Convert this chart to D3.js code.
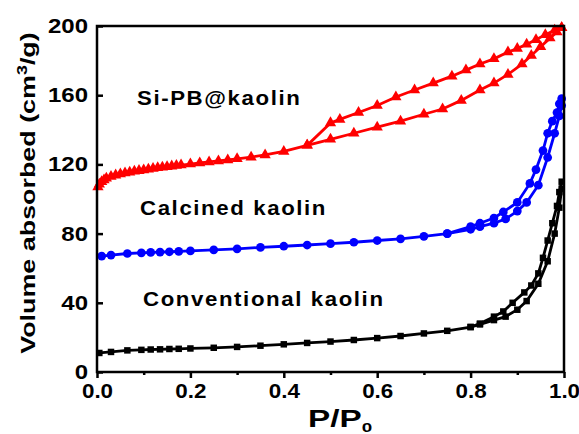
<!DOCTYPE html>
<html lang="en">
  <head>
    <meta charset="UTF-8" />
    <title>isotherms</title>
    <script src="https://d3js.org/d3.v7.min.js" charset="utf-8"></script>
    <style>
      body { margin: 0; background: #fff; }
      text { font-family: "Liberation Sans", Arial, sans-serif; font-weight: bold; fill: #000; }
    </style>
  </head>
  <body>
    <div id="chart"></div>
    <script>
      // Si-PB@kaolin (red, triangles)
      const redAdsP = [0.002, 0.005, 0.01, 0.015, 0.02, 0.03, 0.04, 0.05, 0.06, 0.07, 0.08, 0.09, 0.10, 0.11, 0.12, 0.13, 0.14, 0.15, 0.16, 0.17, 0.18, 0.20, 0.22, 0.24, 0.26, 0.28, 0.30, 0.33, 0.36, 0.40, 0.45, 0.50, 0.55, 0.60, 0.65, 0.70, 0.74, 0.78, 0.82, 0.85, 0.88, 0.91, 0.93, 0.95, 0.97, 0.985, 0.995];
      const redAdsV = [107, 108.5, 110, 111, 112, 113, 113.8, 114.5, 115, 115.5, 116, 116.4, 116.8, 117.2, 117.6, 118, 118.3, 118.6, 119, 119.3, 119.6, 120.2, 120.8, 121.4, 122, 122.6, 123.2, 124.2, 125.5, 127.5, 131, 134.5, 138, 141.5, 145, 149, 152, 157, 163, 167, 172, 178, 183, 188, 193, 196.5, 199];
      const redDesP = [0.995, 0.98, 0.96, 0.94, 0.92, 0.90, 0.88, 0.85, 0.82, 0.79, 0.76, 0.72, 0.68, 0.64, 0.60, 0.56, 0.52, 0.50, 0.45];
      const redDesV = [199, 197.5, 195, 192, 189.5, 187, 185, 181, 178, 174.5, 171, 167, 163, 159, 154, 150, 146, 144, 131];

      // Calcined kaolin (blue, circles)
      const blueAdsP = [0.01, 0.03, 0.065, 0.095, 0.115, 0.135, 0.155, 0.175, 0.2, 0.25, 0.3, 0.35, 0.4, 0.45, 0.5, 0.55, 0.6, 0.65, 0.7, 0.75, 0.8, 0.82, 0.85, 0.875, 0.9, 0.92, 0.945, 0.965, 0.98, 0.99, 0.995];
      const blueAdsV = [67, 67.6, 68.5, 68.9, 69.1, 69.3, 69.5, 69.7, 70, 70.6, 71.2, 72, 72.7, 73.4, 74.2, 75, 76, 77, 78.4, 80, 82.5, 84, 86, 88.5, 93, 98, 108, 124, 138, 148, 154];
      const blueDesP = [0.995, 0.99, 0.985, 0.975, 0.965, 0.955, 0.94, 0.927, 0.9, 0.87, 0.85, 0.82, 0.8, 0.75];
      const blueDesV = [158, 155, 150, 145, 138, 128, 117, 109, 98, 92.5, 89, 86, 84, 80];

      // Conventional kaolin (black, squares)
      const blackAdsP = [0.005, 0.03, 0.065, 0.095, 0.115, 0.135, 0.155, 0.175, 0.2, 0.25, 0.3, 0.35, 0.4, 0.45, 0.5, 0.55, 0.6, 0.65, 0.7, 0.75, 0.8, 0.82, 0.85, 0.875, 0.9, 0.92, 0.945, 0.965, 0.98, 0.99, 0.995];
      const blackAdsV = [11, 11.6, 12.5, 12.8, 13, 13.1, 13.3, 13.4, 13.6, 14, 14.5, 15.2, 16, 16.8, 17.6, 18.5, 19.6, 20.8, 22.3, 23.8, 26, 27.5, 30, 32, 36, 41, 51, 64, 80, 95, 106];
      const blackDesP = [0.995, 0.99, 0.985, 0.975, 0.965, 0.955, 0.945, 0.93, 0.915, 0.89, 0.87, 0.85, 0.82, 0.8];
      const blackDesV = [110, 104, 96, 86, 76, 66, 57, 50, 46, 40, 35, 32, 28, 26];

      const xTicks = [0, 0.2, 0.4, 0.6, 0.8, 1.0];
      const yTicks = [0, 40, 80, 120, 160, 200];
      const labels = ["Si-PB@kaolin", "Calcined kaolin", "Conventional kaolin"];

      const width = 579;
      const height = 434;
      const mLeft = 97, mRight = 564, mTop = 26, mBottom = 372;

      const x = d3.scaleLinear().domain([0, 1]).range([mLeft, mRight]);
      const y = d3.scaleLinear().domain([0, 200]).range([mBottom, mTop]);

      const svg = d3
        .select("#chart")
        .append("svg")
        .attr("width", width)
        .attr("height", height)
        .style("background", "#fff");

      const series = [
        { color: "#ff0000", sym: d3.symbolTriangle, size: 55, ads: [redAdsP, redAdsV], des: [redDesP, redDesV] },
        { color: "#0000ff", sym: d3.symbolCircle, size: 60, ads: [blueAdsP, blueAdsV], des: [blueDesP, blueDesV] },
        { color: "#000000", sym: d3.symbolSquare, size: 42, ads: [blackAdsP, blackAdsV], des: [blackDesP, blackDesV] }
      ];

      const line = d3.line().x(d => x(d[0])).y(d => y(d[1]));

      series.forEach(s => {
        const ads = s.ads[0].map((p, i) => [p, s.ads[1][i]]);
        const des = s.des[0].map((p, i) => [p, s.des[1][i]]);
        const g = svg.append("g");
        [ads, des].forEach(pts => {
          g.append("path")
            .attr("d", line(pts))
            .attr("fill", "none")
            .attr("stroke", s.color)
            .attr("stroke-width", 2.8);
          g.selectAll(null)
            .data(pts)
            .enter()
            .append("path")
            .attr("d", d3.symbol().type(s.sym).size(s.size))
            .attr("transform", d => `translate(${x(d[0])},${y(d[1])})`)
            .attr("fill", s.color);
        });
      });

      // x axis: major ticks outward, minor in between
      const xAxis = svg.append("g")
        .attr("transform", `translate(0,${mBottom})`)
        .call(d3.axisBottom(x).tickValues(xTicks).tickSize(6).tickFormat(d3.format(".1f")));
      xAxis.select(".domain").remove();
      xAxis.selectAll("line").attr("stroke-width", 2.5);
      xAxis.selectAll("text")
        .attr("y", 12)
        .attr("dy", "0.71em")
        .style("font-size", "20px")
        .attr("transform", "scale(1.12,1)");
      svg.append("g")
        .attr("transform", `translate(0,${mBottom})`)
        .call(d3.axisBottom(x).tickValues([0.1, 0.3, 0.5, 0.7, 0.9]).tickSize(3).tickFormat(""))
        .call(g => g.select(".domain").remove())
        .selectAll("line").attr("stroke-width", 2.5);

      // y axis: ticks inward
      const yAxis = svg.append("g")
        .attr("transform", `translate(${mLeft},0)`)
        .call(d3.axisLeft(y).tickValues(yTicks).tickSize(-6));
      yAxis.select(".domain").remove();
      yAxis.selectAll("line").attr("stroke-width", 2.5);
      yAxis.selectAll("text")
        .attr("x", 0)
        .attr("transform", "translate(-9,0) scale(1.2,1)")
        .style("font-size", "20px");

      // frame
      svg.append("rect")
        .attr("x", mLeft)
        .attr("y", mTop)
        .attr("width", mRight - mLeft)
        .attr("height", mBottom - mTop)
        .attr("fill", "none")
        .attr("stroke", "#000")
        .attr("stroke-width", 2.5);

      // series labels
      const labelPos = [[137, 105], [140, 215], [143, 306]];
      svg.selectAll(".lab")
        .data(labels)
        .enter()
        .append("text")
        .attr("class", "lab")
        .attr("transform", (d, i) => `translate(${labelPos[i][0]},${labelPos[i][1]}) scale(1.06,1)`)
        .style("font-size", "21px")
        .style("letter-spacing", "1.5px")
        .text(d => d);

      // axis titles
      const yt = svg.append("text")
        .attr("transform", "translate(35,193) rotate(-90) scale(1.28,1)")
        .attr("text-anchor", "middle")
        .style("font-size", "21px");
      yt.append("tspan").text("Volume absorbed (cm");
      yt.append("tspan").attr("dy", -8).style("font-size", "14px").text("3");
      yt.append("tspan").attr("dy", 8).text("/g)");

      const xt = svg.append("text")
        .attr("transform", "translate(308,427) scale(1.45,1)")
        .style("font-size", "23px");
      xt.append("tspan").text("P/P");
      xt.append("tspan").attr("dy", 5).style("font-size", "13px").text("0");
    </script>
  </body>
</html>
